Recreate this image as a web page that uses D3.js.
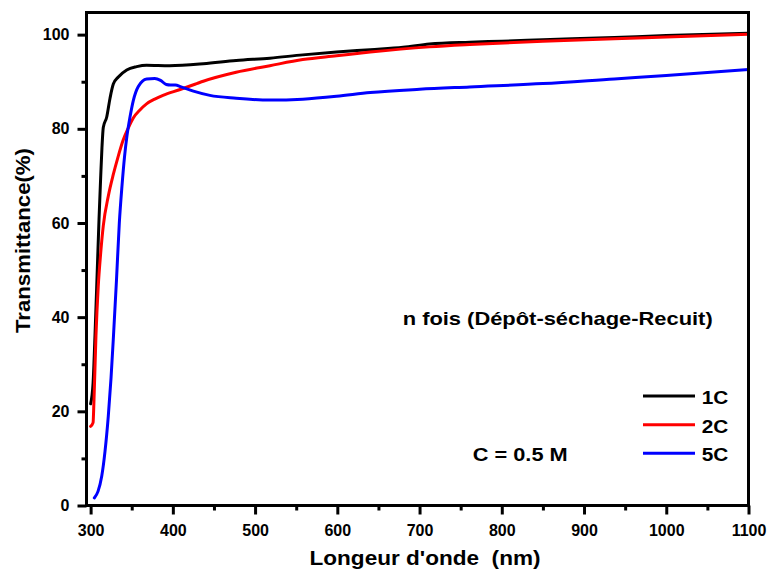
<!DOCTYPE html>
<html>
<head>
<meta charset="utf-8">
<script src="https://cdn.jsdelivr.net/npm/d3@7"></script>
<style>
  html, body { margin: 0; padding: 0; background: #fff; }
  svg { display: block; }
  text { font-family: "Liberation Sans", Arial, sans-serif; font-weight: bold; fill: #000; }
</style>
</head>
<body>
<svg id="chart" width="771" height="574"></svg>
<script>
// ---- data (wavelength nm, transmittance %) ----
const wl1C = [300, 303, 305.3, 308.1, 310.2, 312.3, 313.8, 315.4, 319.6, 323.6, 327.6, 333.7, 343.9, 356, 368, 396, 437, 477, 518, 558, 599, 640, 680, 712, 761, 800, 850, 937, 1000, 1100];
const t1C  = [21.6, 26, 36, 50, 60.7, 70, 76, 80.3, 82.5, 86.5, 89.5, 91, 92.5, 93.2, 93.5, 93.4, 93.8, 94.5, 95, 95.7, 96.3, 96.8, 97.3, 98, 98.4, 98.6, 98.9, 99.4, 99.8, 100.3];

const wl2C = [300, 303, 304, 306.5, 309.3, 312.3, 315.4, 321.5, 327.6, 333.3, 339.4, 345.9, 351.9, 360, 368, 378, 388, 408, 429, 437, 477, 518, 558, 599, 640, 712, 761, 850, 937, 1000, 1100];
const t2C  = [16.8, 17.6, 21.8, 36, 46.6, 53.7, 59.4, 65.7, 70.3, 74, 77.5, 80.2, 82.3, 84, 85.3, 86.3, 87.1, 88.3, 89.6, 90.1, 92, 93.4, 94.7, 95.5, 96.3, 97.4, 97.9, 98.6, 99.1, 99.5, 100.1];

const wl5C = [304.5, 309, 313.5, 317.5, 321.5, 324.8, 327.8, 331.5, 334.9, 338.2, 341.2, 344.2, 347.9, 351.9, 358, 368.2, 378, 385, 392, 397, 403, 410, 425, 445, 477, 518, 558, 599, 640, 700, 761, 850, 937, 1000, 1100];
const t5C  = [1.6, 3, 6.2, 11.5, 19, 27, 36, 48, 60, 68, 74, 78.5, 82.5, 86, 89, 90.6, 90.7, 90.3, 89.4, 89.3, 89.3, 88.9, 88.0, 87.1, 86.5, 86.1, 86.3, 86.9, 87.7, 88.4, 88.9, 89.6, 90.6, 91.3, 92.6];

const seriesNames  = ["1C", "2C", "5C"];
const seriesColors = ["#000000", "#ff0000", "#0000ff"];

const xTicks = [300, 400, 500, 600, 700, 800, 900, 1000, 1100];
const xMinorTicks = [350, 450, 550, 650, 750, 850, 950, 1050];
const yTicks = [0, 20, 40, 60, 80, 100];
const yMinorTicks = [10, 30, 50, 70, 90];

const xTitle = "Longeur d'onde  (nm)";
const yTitle = "Transmittance(%)";
const note1 = "n fois (Dépôt-séchage-Recuit)";
const note2 = "C = 0.5 M";

// ---- layout ----
const svg = d3.select("#chart");
const L = 86.5, R = 748.5, T = 12.5, B = 505.5;

const x = d3.scaleLinear().domain([295, 1100]).range([L, R]);
const y = d3.scaleLinear().domain([0, 104.7]).range([B, T]);

const series = [
  {name: seriesNames[0], color: seriesColors[0], pts: wl1C.map((w, i) => [w, t1C[i]])},
  {name: seriesNames[1], color: seriesColors[1], pts: wl2C.map((w, i) => [w, t2C[i]])},
  {name: seriesNames[2], color: seriesColors[2], pts: wl5C.map((w, i) => [w, t5C[i]])}
];

// curves
const line = d3.line().x(d => x(d[0])).y(d => y(d[1])).curve(d3.curveMonotoneX);
svg.append("g").selectAll("path").data(series).join("path")
  .attr("d", d => line(d.pts))
  .attr("fill", "none")
  .attr("stroke", d => d.color)
  .attr("stroke-width", 3)
  .attr("stroke-linejoin", "round")
  .attr("stroke-linecap", "round");

// axes
function styleAxis(g) {
  g.select(".domain").remove();
  g.selectAll(".tick line").attr("stroke", "#000").attr("stroke-width", 3);
  g.selectAll(".tick text").style("font-size", "16px").style("font-weight", "bold")
    .style("font-family", "'Liberation Sans', Arial, sans-serif").attr("fill", "#000");
}
svg.append("g").attr("transform", `translate(0,${B})`)
  .call(d3.axisBottom(x).tickValues(xMinorTicks).tickSize(5).tickFormat(""))
  .call(styleAxis);
svg.append("g").attr("transform", `translate(0,${B})`)
  .call(d3.axisBottom(x).tickValues(xTicks).tickSize(9).tickPadding(10).tickFormat(d3.format("d")))
  .call(styleAxis);
svg.append("g").attr("transform", `translate(${L},0)`)
  .call(d3.axisLeft(y).tickValues(yMinorTicks).tickSize(5).tickFormat(""))
  .call(styleAxis);
svg.append("g").attr("transform", `translate(${L},0)`)
  .call(d3.axisLeft(y).tickValues(yTicks).tickSize(9).tickPadding(8).tickFormat(d3.format("d")))
  .call(styleAxis);

// frame
svg.append("rect")
  .attr("x", L).attr("y", T).attr("width", R - L).attr("height", B - T)
  .attr("fill", "none").attr("stroke", "#000").attr("stroke-width", 3);

// titles
svg.append("text")
  .attr("x", 425).attr("y", 565)
  .attr("text-anchor", "middle")
  .style("font-size", "20px").style("white-space", "pre")
  .attr("textLength", 231).attr("lengthAdjust", "spacingAndGlyphs")
  .text(xTitle);
svg.append("text")
  .attr("transform", "translate(29.5,240.5) rotate(-90)")
  .attr("text-anchor", "middle")
  .style("font-size", "20px")
  .attr("textLength", 185).attr("lengthAdjust", "spacingAndGlyphs")
  .text(yTitle);

// annotations
svg.append("text")
  .attr("x", 402.7).attr("y", 325)
  .style("font-size", "18.5px")
  .attr("textLength", 310).attr("lengthAdjust", "spacingAndGlyphs")
  .text(note1);
svg.append("text")
  .attr("x", 472.7).attr("y", 461)
  .style("font-size", "19px")
  .attr("textLength", 95).attr("lengthAdjust", "spacingAndGlyphs")
  .text(note2);

// legend
const legY = [396, 424.7, 453.3];
const leg = svg.append("g").selectAll("g").data(series).join("g")
  .attr("transform", (d, i) => `translate(0,${legY[i]})`);
leg.append("line")
  .attr("x1", 643).attr("x2", 695).attr("y1", 0).attr("y2", 0)
  .attr("stroke", d => d.color).attr("stroke-width", 3);
leg.append("text")
  .attr("x", 701.7).attr("y", 8)
  .style("font-size", "19px")
  .attr("textLength", 26.6).attr("lengthAdjust", "spacingAndGlyphs")
  .text(d => d.name);
</script>
</body>
</html>
